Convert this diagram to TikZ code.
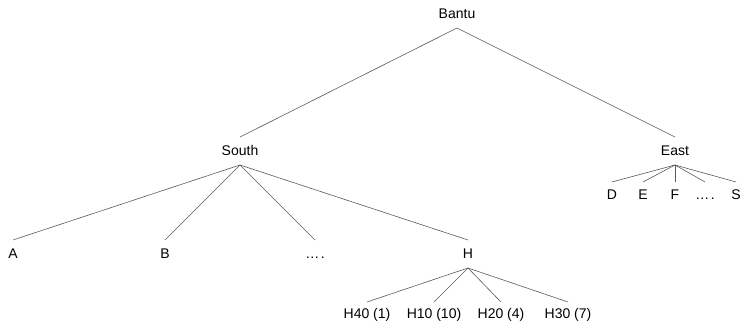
\documentclass[tikz,border=0pt]{standalone}
\usepackage{fontspec}
\setmainfont{Liberation Sans}
\newcommand{\mydots}{…\hspace{1.5pt}.}
\begin{document}
\begin{tikzpicture}[x=1pt,y=-1pt,
  lbl/.style={anchor=base,inner sep=0pt,font=\fontsize{14}{16}\selectfont},
  edge/.style={draw=black!65,line width=0.6pt}]
\useasboundingbox (0,0) rectangle (742,323);
% nodes (positions at text baselines)
\node[lbl] (bantu) at (457,19) {Bantu};
\node[lbl] (south) at (240,156) {South};
\node[lbl] (east) at (675,156) {East};
\node[lbl] (d) at (612,200) {D};
\node[lbl] (e) at (643,200) {E};
\node[lbl] (f) at (675,200) {F};
\node[lbl] (edots) at (705,200) {\mydots};
\node[lbl] (s) at (736,200) {S};
\node[lbl] (a) at (13,259) {A};
\node[lbl] (b) at (165,259) {B};
\node[lbl] (sdots) at (315,259) {\mydots};
\node[lbl] (h) at (468,259) {H};
\node[lbl] (h40) at (367,318) {H40 (1)};
\node[lbl] (h10) at (434,318) {H10 (10)};
\node[lbl] (h20) at (501,318) {H20 (4)};
\node[lbl] (h30) at (568,318) {H30 (7)};
% connectors
\foreach \p/\c/\up in {bantu/south/19, bantu/east/19,
  south/a/19, south/b/19, south/sdots/19, south/h/19,
  east/d/18, east/e/18, east/f/18, east/edots/18, east/s/18,
  h/h40/16, h/h10/16, h/h20/16, h/h30/16}
  \draw[edge] ([yshift=-9pt]\p.base) -- ([yshift=\up pt]\c.base);
\end{tikzpicture}
\end{document}
